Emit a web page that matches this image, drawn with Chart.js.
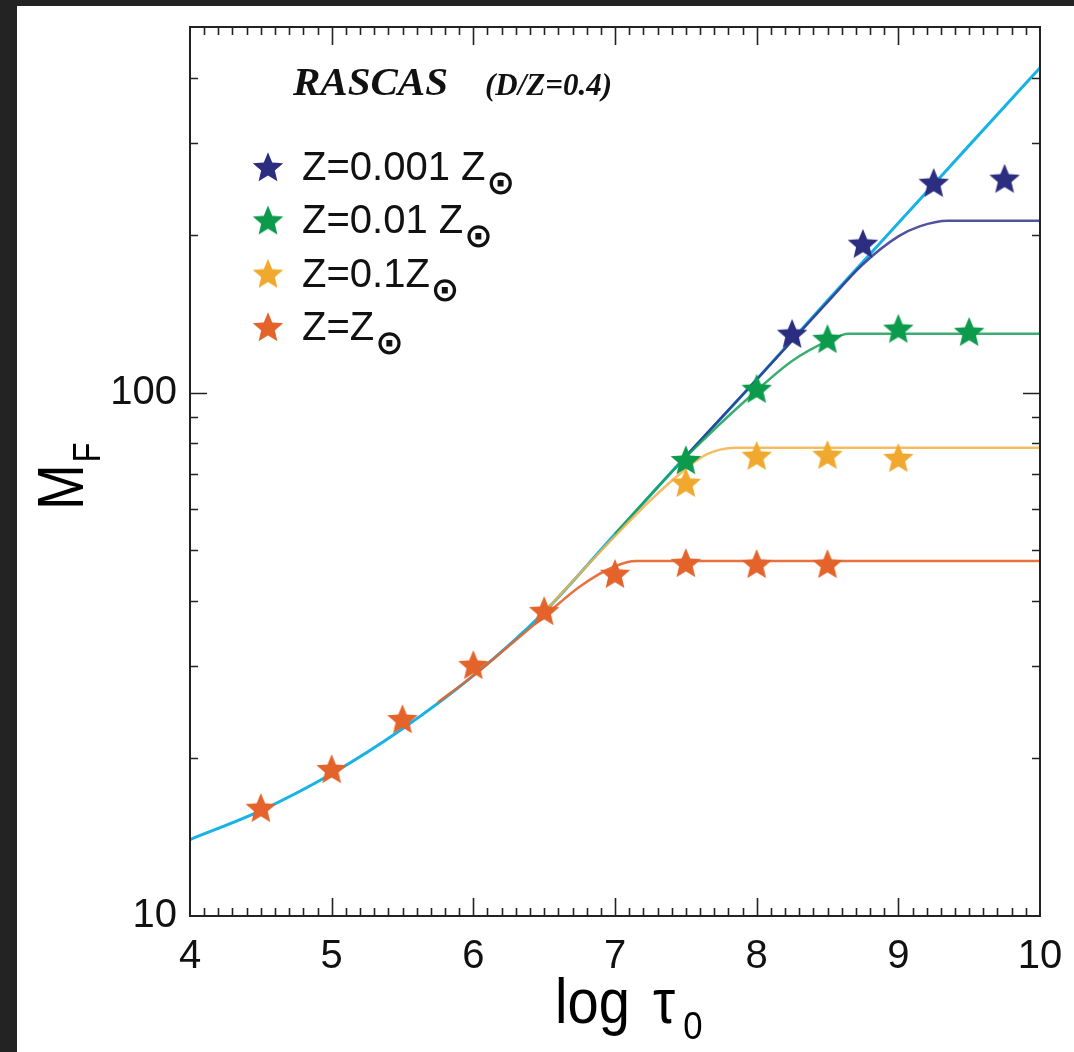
<!DOCTYPE html>
<html>
<head>
<meta charset="utf-8">
<script src="https://cdn.jsdelivr.net/npm/chart.js@4.4.1/dist/chart.umd.min.js"></script>
<style>
  html, body { margin: 0; padding: 0; background: #232323; width: 1074px; height: 1052px; overflow: hidden; }
  #wrap { position: absolute; left: 17px; top: 6px; width: 1057px; height: 1046px; background: #ffffff; }
  canvas { display: block; }
</style>
</head>
<body>
<div id="wrap"><canvas id="c" width="1057" height="1046"></canvas></div>
<script>
// ---------------- data ----------------
const xTickLabels = [4, 5, 6, 7, 8, 9, 10];
const yTickValues = [10, 20, 30, 40, 50, 60, 70, 80, 90, 100, 200, 300, 400, 500];
const yLabeledTicks = [10, 100];

// stars
const zSunX   = [4.5, 5, 5.5, 6, 6.5, 7, 7.5, 8, 8.5];
const zSunY   = [16.1, 19.1, 23.8, 30.2, 38.3, 45.1, 47.3, 47.1, 47.1];
const z01X    = [7.5, 8, 8.5, 9];
const z01Y    = [67.3, 75.8, 76.1, 75.1];
const z001X   = [7.5, 8, 8.5, 9, 9.5];
const z001Y   = [74.4, 101.8, 126.8, 132.6, 130.8];
const z0001X  = [8.25, 8.75, 9.25, 9.75];
const z0001Y  = [129.7, 192.7, 252, 256.6];

// model curves
const noDustX = [4, 4.5, 5, 5.5, 6, 6.5, 7, 7.5, 8, 8.5, 9, 9.5, 10];
const noDustY = [14.0, 15.9, 18.7, 22.8, 28.8, 38.1, 53.7, 75.6, 106, 150, 211, 297, 418];
const zSunCurveX  = [5.75, 6, 6.25, 6.5, 6.75, 7, 7.15, 10];
const zSunCurveY  = [25.6, 28.8, 32.8, 37.4, 42.6, 46.6, 47.7, 47.7];
const z01CurveX   = [6.5, 7, 7.25, 7.5, 7.65, 7.85, 10];
const z01CurveY   = [38.1, 53.2, 62.3, 71.5, 76.3, 78.5, 78.5];
const z001CurveX  = [7, 7.5, 8, 8.25, 8.5, 8.65, 10];
const z001CurveY  = [53.7, 75.3, 101, 115, 125.5, 129.7, 129.7];
const z0001CurveX = [7.5, 8, 8.5, 8.75, 9, 9.15, 9.35, 10];
const z0001CurveY = [75.6, 106, 149, 176, 199, 208, 213.2, 213.2];

const legendLabels = ['Z=0.001 Z', 'Z=0.01 Z', 'Z=0.1Z', 'Z=Z'];

// ---------------- styling ----------------
const C_NAVY = '#2b2d80', C_GREEN = '#0c9a4c', C_YEL = '#f0a92e', C_RED = '#e4632b', C_CYAN = '#17b2e6';
const SANS = '"Liberation Sans", Arial, Helvetica, sans-serif';
const SERIF = '"Liberation Serif", "Times New Roman", serif';

function starImage(color, r) {
  const size = Math.ceil(2 * r + 4);
  const c = document.createElement('canvas');
  c.width = size; c.height = size;
  const g = c.getContext('2d');
  const cx = size / 2, cy = size / 2 + r * 0.08, ri = r * 0.45;
  g.beginPath();
  for (let i = 0; i < 10; i++) {
    const rad = (i % 2 === 0) ? r : ri;
    const a = -Math.PI / 2 + i * Math.PI / 5;
    const px = cx + rad * Math.cos(a), py = cy + rad * Math.sin(a);
    if (i === 0) g.moveTo(px, py); else g.lineTo(px, py);
  }
  g.closePath();
  g.fillStyle = color;
  g.fill();
  return c;
}
const stars = {
  navy: starImage(C_NAVY, 16), green: starImage(C_GREEN, 16),
  yel: starImage(C_YEL, 16), red: starImage(C_RED, 16)
};

const zip = (xs, ys) => xs.map((x, i) => ({ x: x, y: ys[i] }));

function curve(xs, ys, color, width, order) {
  return { type: 'line', data: zip(xs, ys), borderColor: color, borderWidth: width,
    pointRadius: 0, showLine: true, cubicInterpolationMode: 'monotone', fill: false, order: order };
}
function starSet(xs, ys, img) {
  return { type: 'scatter', data: zip(xs, ys), pointStyle: img, pointRadius: 16,
    showLine: false, order: 0 };
}

const decor = {
  id: 'decor',
  afterDraw(chart) {
    const ctx = chart.ctx, xs = chart.scales.x, ys = chart.scales.y, a = chart.chartArea;
    ctx.save();
    // ticks (inward, on all four sides)
    ctx.strokeStyle = '#222';
    ctx.lineWidth = 1.6;
    ctx.beginPath();
    for (let i = 41; i < 100; i++) {
      const px = Math.round(xs.getPixelForValue(i / 10)) + 0.5;
      const len = (i % 10 === 0) ? 18 : 8;
      ctx.moveTo(px, a.bottom); ctx.lineTo(px, a.bottom - len);
      ctx.moveTo(px, a.top); ctx.lineTo(px, a.top + len);
    }
    yTickValues.forEach(v => {
      if (v <= ys.min || v >= ys.max) return;
      const py = Math.round(ys.getPixelForValue(v)) + 0.5;
      const len = (v === 10 || v === 100) ? 17 : 8;
      ctx.moveTo(a.left, py); ctx.lineTo(a.left + len, py);
      ctx.moveTo(a.right, py); ctx.lineTo(a.right - len, py);
    });
    ctx.stroke();
    // frame
    ctx.lineWidth = 2;
    ctx.strokeRect(a.left, a.top, a.right - a.left, a.bottom - a.top);

    // title
    ctx.fillStyle = '#111';
    ctx.textBaseline = 'alphabetic';
    ctx.textAlign = 'left';
    ctx.font = 'italic bold 41px ' + SERIF;
    ctx.fillText('RASCAS', 276, 89);
    ctx.font = 'italic bold 31px ' + SERIF;
    ctx.fillText('(D/Z=0.4)', 468, 89);

    // legend
    const legStars = [stars.navy, stars.green, stars.yel, stars.red];
    legendLabels.forEach((t, i) => {
      const cy = 161 + i * 53.3;
      const img = legStars[i];
      ctx.drawImage(img, 251 - img.width / 2, cy - img.height / 2);
      const base = 174 + i * 53.3;
      ctx.font = '40px ' + SANS;
      ctx.fillStyle = '#111';
      ctx.fillText(t, 285, base);
      const w = ctx.measureText(t).width;
      ctx.font = 'bold 34px "DejaVu Sans", ' + SANS;
      ctx.fillText('\u2299', 285 + w + 1, base + 14);
    });

    // y title  M_F (rotated)
    ctx.save();
    ctx.translate(66, 504);
    ctx.rotate(-Math.PI / 2);
    ctx.scale(0.86, 1);
    ctx.font = '64px ' + SANS;
    ctx.fillStyle = '#000';
    ctx.fillText('M', 0, 0);
    const mw = ctx.measureText('M').width;
    ctx.font = '38px ' + SANS;
    ctx.fillText('F', mw + 2, 17);
    ctx.restore();

    // x title  log tau_0
    ctx.save();
    ctx.translate(538, 1017);
    ctx.scale(0.89, 1);
    ctx.font = '63px ' + SANS;
    ctx.fillStyle = '#000';
    ctx.fillText('log', 0, 0);
    ctx.fillText('\u03C4', 110, 0);
    ctx.font = '39px ' + SANS;
    ctx.fillText('0', 144, 16);
    ctx.restore();

    ctx.restore();
  }
};

new Chart(document.getElementById('c'), {
  data: {
    datasets: [
      starSet(z0001X, z0001Y, stars.navy),
      starSet(z001X, z001Y, stars.green),
      starSet(z01X, z01Y, stars.yel),
      starSet(zSunX, zSunY, stars.red),
      curve(zSunCurveX, zSunCurveY, 'rgba(228,99,43,0.9)', 2.5, 1),
      curve(z01CurveX, z01CurveY, 'rgba(242,178,70,0.85)', 2.5, 1),
      curve(z001CurveX, z001CurveY, 'rgba(24,160,88,0.85)', 2.5, 1),
      curve(z0001CurveX, z0001CurveY, 'rgba(50,52,140,0.85)', 2.5, 1),
      curve(noDustX, noDustY, C_CYAN, 3, 2)
    ]
  },
  options: {
    responsive: false,
    devicePixelRatio: 1,
    animation: false,
    events: [],
    layout: { padding: { left: 53, right: 34, top: 21, bottom: 0 } },
    plugins: { legend: { display: false }, tooltip: { enabled: false }, title: { display: false } },
    scales: {
      x: {
        type: 'linear', position: 'bottom', min: 4, max: 10,
        afterBuildTicks(s) { s.ticks = xTickLabels.map(v => ({ value: v })); },
        ticks: { font: { size: 40, family: SANS }, color: '#111', padding: 17, autoSkip: false, maxRotation: 0,
                 callback: v => String(v) },
        grid: { display: false, drawTicks: false },
        border: { display: false },
        afterFit(s) { s.height = 136; s.paddingLeft = 0; s.paddingRight = 0; s.paddingTop = 0; s.paddingBottom = 0; }
      },
      y: {
        type: 'logarithmic', position: 'left', min: 10, max: 500,
        afterBuildTicks(s) { s.ticks = yTickValues.map(v => ({ value: v })); },
        ticks: { font: { size: 40, family: SANS }, color: '#111', padding: 13, autoSkip: false,
                 callback: v => yLabeledTicks.includes(v) ? String(v) : '' },
        grid: { display: false, drawTicks: false },
        border: { display: false },
        afterFit(s) { s.width = 120; s.paddingLeft = 0; s.paddingRight = 0; s.paddingTop = 0; s.paddingBottom = 0; }
      }
    }
  },
  plugins: [decor]
});
</script>
</body>
</html>
